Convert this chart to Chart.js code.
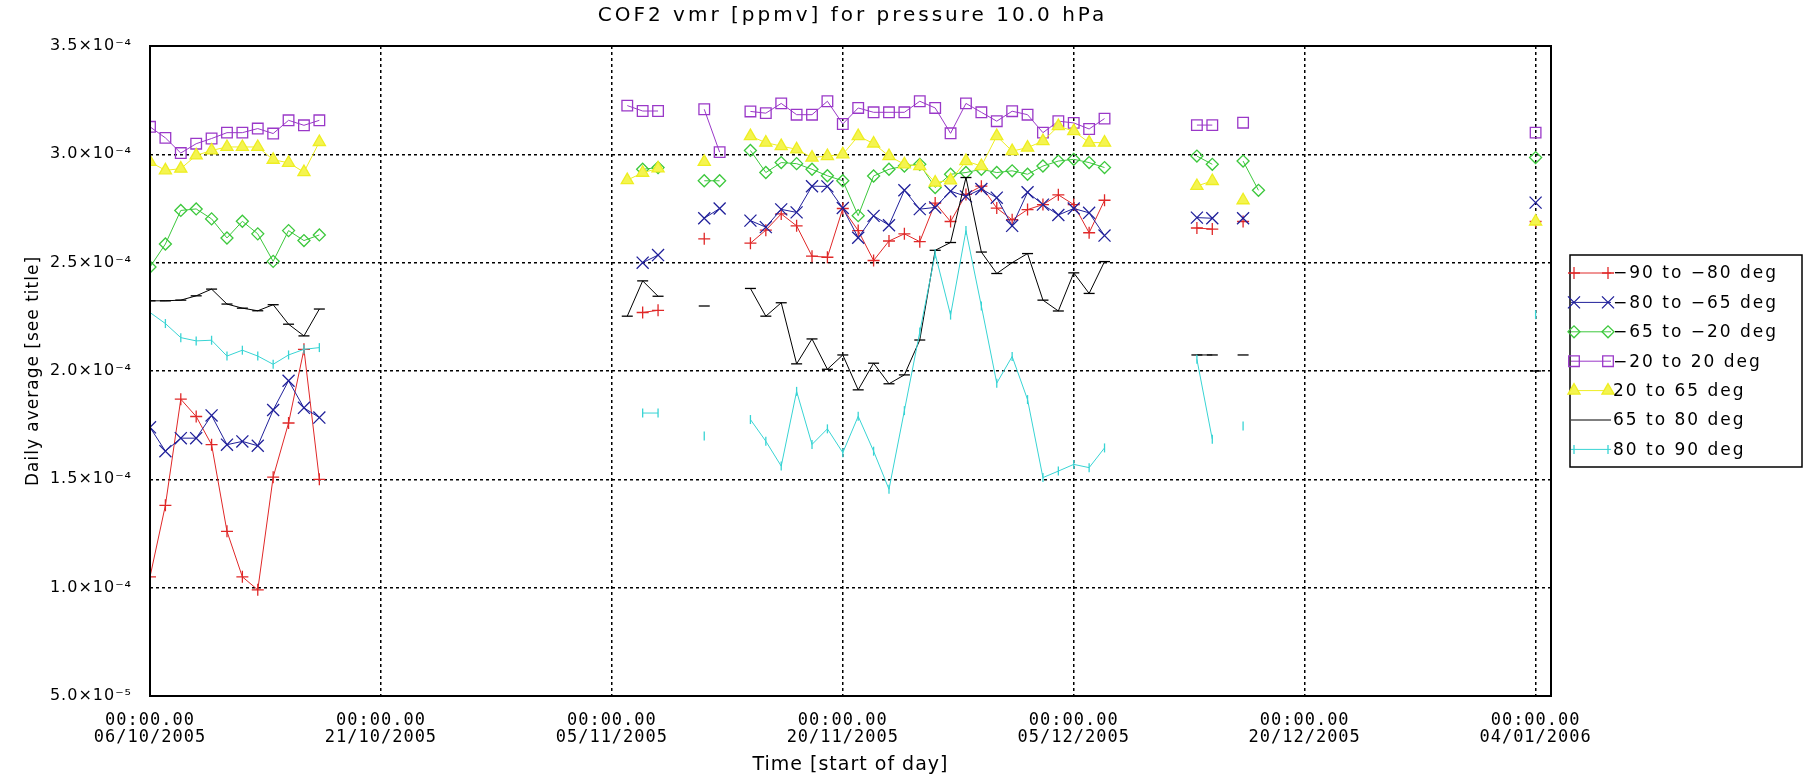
<!DOCTYPE html>
<html>
<head>
<meta charset="utf-8">
<script src="https://cdn.jsdelivr.net/npm/chart.js@4.4.0/dist/chart.umd.min.js"></script>
<style>
html,body{margin:0;padding:0;background:#fff;}
canvas{display:block;}
</style>
</head>
<body>
<canvas id="c" width="1804" height="782"></canvas>
<script>
// ---------------- DATA ----------------
const UNIT = 1e-4; // values below are in units of 1e-4 ppmv
// day offsets from 06/10/2005 00:00
const days = [0,1,2,3,4,5,6,7,8,9,10,11,
  31,32,33,36,37,
  39,40,41,42,43,44,45,46,47,48,49,50,51,52,53,54,55,56,57,58,59,60,61,62,
  68,69,71,72,
  90];

const seriesNames = ['\u221290 to \u221280 deg','\u221280 to \u221265 deg','\u221265 to \u221220 deg','\u221220 to 20 deg','20 to 65 deg','65 to 80 deg','80 to 90 deg'];

const sM90toM80 = [1.05,1.38,1.87,1.79,1.66,1.26,1.05,0.99,1.51,1.76,2.10,1.50,
  null,2.27,2.28,2.61,null,
  2.59,2.65,2.725,2.67,2.53,2.525,2.75,2.648,2.51,2.60,2.633,2.597,2.775,2.69,2.815,2.853,2.752,2.698,2.745,2.768,2.813,2.768,2.638,2.788,
  2.66,2.655,2.69,null,
  2.69];
const sM80toM65 = [1.74,1.63,1.69,1.69,1.795,1.66,1.675,1.655,1.82,1.955,1.83,1.785,
  null,2.50,2.535,2.705,2.75,
  2.694,2.664,2.746,2.732,2.853,2.852,2.752,2.615,2.716,2.673,2.834,2.747,2.755,2.83,2.806,2.84,2.80,2.67,2.825,2.768,2.72,2.75,2.73,2.625,
  2.708,2.705,2.705,null,
  2.777];
const sM65toM20 = [2.48,2.586,2.741,2.748,2.702,2.614,2.691,2.633,2.506,2.648,2.602,2.628,
  null,2.931,2.939,2.878,2.878,
  3.018,2.916,2.962,2.957,2.931,2.901,2.878,2.717,2.90,2.931,2.946,2.954,2.847,2.908,2.916,2.931,2.916,2.924,2.908,2.946,2.969,2.977,2.962,2.939,
  2.992,2.954,2.969,2.834,
  2.985];
const sM20to20 = [3.127,3.076,3.006,3.049,3.073,3.10,3.10,3.119,3.096,3.157,3.134,3.157,
  3.225,3.20,3.20,3.208,3.01,
  3.198,3.19,3.235,3.183,3.183,3.245,3.14,3.214,3.194,3.194,3.194,3.245,3.214,3.097,3.235,3.194,3.153,3.199,3.183,3.10,3.153,3.145,3.117,3.165,
  3.135,3.135,3.146,null,
  3.10];
const s20to65 = [2.965,2.926,2.934,2.995,3.018,3.034,3.034,3.034,2.975,2.961,2.918,3.057,
  2.881,2.915,2.935,2.965,null,
  3.084,3.054,3.038,3.023,2.985,2.992,3.00,3.084,3.05,2.992,2.954,2.946,2.87,2.88,2.969,2.946,3.084,3.015,3.031,3.061,3.13,3.107,3.054,3.054,
  2.854,2.877,2.788,null,
  2.69];
const s65to80 = [2.324,2.324,2.327,2.347,2.378,2.309,2.29,2.278,2.306,2.216,2.162,2.286,
  2.253,2.416,2.345,2.30,null,
  2.381,2.253,2.315,2.033,2.148,2.008,2.074,1.913,2.036,1.941,1.982,2.143,2.557,2.593,2.893,2.549,2.45,2.50,2.542,2.327,2.277,2.453,2.358,2.505,
  2.074,2.074,2.074,null,
  2.00];
const s80to90 = [2.27,2.219,2.154,2.139,2.142,2.069,2.096,2.069,2.031,2.074,2.10,2.108,
  null,1.806,1.806,1.70,null,
  1.776,1.676,1.561,1.906,1.661,1.733,1.623,1.791,1.63,1.454,1.817,2.18,2.541,2.258,2.648,2.30,1.944,2.067,1.868,1.508,1.538,1.569,1.554,1.645,
  2.054,1.685,1.746,null,
  2.26];

const seriesValues = [sM90toM80, sM80toM65, sM65toM20, sM20to20, s20to65, s65to80, s80to90];

const xTickDays = [0,15,30,45,60,75,90];
const xTickLabels = [
  ['00:00.00','06/10/2005'],
  ['00:00.00','21/10/2005'],
  ['00:00.00','05/11/2005'],
  ['00:00.00','20/11/2005'],
  ['00:00.00','05/12/2005'],
  ['00:00.00','20/12/2005'],
  ['00:00.00','04/01/2006']
];
const yTickValues = [5e-5,1.0e-4,1.5e-4,2.0e-4,2.5e-4,3.0e-4,3.5e-4];
const yTickLabels = ['5.0\u00d710\u207b\u2075','1.0\u00d710\u207b\u2074','1.5\u00d710\u207b\u2074','2.0\u00d710\u207b\u2074','2.5\u00d710\u207b\u2074','3.0\u00d710\u207b\u2074','3.5\u00d710\u207b\u2074'];

const TITLE = 'COF2 vmr [ppmv] for pressure 10.0 hPa';
const X_TITLE = 'Time [start of day]';
const Y_TITLE = 'Daily average [see title]';

// ---------------- STYLES ----------------
const styles = [
  {color:'#e02828', pointStyle:'cross',    r:6,   rot:0,  fill:'rgba(0,0,0,0)'},
  {color:'#20209a', pointStyle:'crossRot', r:8.5, rot:0,  fill:'rgba(0,0,0,0)'},
  {color:'#3cc83c', pointStyle:'rectRot',  r:6,   rot:0,  fill:'rgba(0,0,0,0)'},
  {color:'#9a38c8', pointStyle:'rect',     r:7.5, rot:0,  fill:'rgba(0,0,0,0)'},
  {color:'#eeee22', pointStyle:'triangle', r:7,   rot:0,  fill:'#f4f450'},
  {color:'#000000', pointStyle:'line',     r:5.5, rot:0,  fill:'rgba(0,0,0,0)'},
  {color:'#38d4d4', pointStyle:'line',     r:4.5, rot:90, fill:'rgba(0,0,0,0)'}
];

function buildSeries(vals){
  const pts = [];
  for (let i = 0; i < days.length; i++) {
    if (i > 0 && days[i] - days[i-1] > 1) pts.push({x:(days[i]+days[i-1])/2, y:null});
    pts.push({x:days[i], y: vals[i] === null ? null : vals[i]*UNIT});
  }
  return pts;
}

const datasets = seriesValues.map((vals, i) => ({
  label: seriesNames[i],
  data: buildSeries(vals),
  borderColor: styles[i].color,
  backgroundColor: styles[i].color,
  borderWidth: 1,
  tension: 0,
  spanGaps: false,
  pointStyle: styles[i].pointStyle,
  pointRadius: styles[i].r,
  pointRotation: styles[i].rot,
  pointBorderColor: styles[i].color,
  pointBackgroundColor: styles[i].fill,
  pointBorderWidth: 1.3,
  pointHoverRadius: styles[i].r,
  order: seriesValues.length - 1 - i
}));

// ---------------- PLUGINS ----------------
const spacingPlugin = {
  id:'spacing',
  beforeDraw(chart){ chart.ctx.letterSpacing = '1px'; },
  afterDraw(chart){ chart.ctx.letterSpacing = '0px'; }
};

const boxPlugin = {
  id:'box',
  afterDatasetsDraw(chart){
    const {ctx, chartArea:a} = chart;
    ctx.save();
    ctx.strokeStyle = '#000';
    ctx.lineWidth = 2;
    ctx.setLineDash([]);
    ctx.strokeRect(a.left, a.top, a.right - a.left, a.bottom - a.top);
    ctx.restore();
  }
};

const titlePlugin = {
  id:'idlTitle',
  afterDraw(chart){
    const {ctx, chartArea:a} = chart;
    ctx.save();
    ctx.letterSpacing = '3px';
    ctx.font = '20px "DejaVu Sans"';
    ctx.fillStyle = '#000';
    ctx.textAlign = 'center';
    ctx.textBaseline = 'alphabetic';
    ctx.fillText(TITLE, (a.left + a.right)/2 + 2, 21);
    ctx.restore();
  }
};

function drawMarker(ctx, st, x, y){
  ctx.save();
  ctx.strokeStyle = st.color;
  ctx.fillStyle = st.fill;
  ctx.lineWidth = 1.3;
  if (Chart.helpers && Chart.helpers.drawPoint) {
    Chart.helpers.drawPoint(ctx, {pointStyle: st.pointStyle, radius: st.r, rotation: st.rot, borderWidth: 1.3}, x, y);
  }
  ctx.restore();
}

const legendPlugin = {
  id:'idlLegend',
  afterDraw(chart){
    const ctx = chart.ctx;
    const bx = 1570, by = 255, bw = 232, bh = 212;
    ctx.save();
    ctx.letterSpacing = '2px';
    ctx.fillStyle = '#fff';
    ctx.fillRect(bx, by, bw, bh);
    ctx.strokeStyle = '#000';
    ctx.lineWidth = 1.5;
    ctx.setLineDash([]);
    ctx.strokeRect(bx, by, bw, bh);
    ctx.font = '17px "DejaVu Sans"';
    ctx.textAlign = 'left';
    ctx.textBaseline = 'middle';
    for (let i = 0; i < seriesNames.length; i++) {
      const y = by + 18 + i * 29.4;
      const st = styles[i];
      ctx.strokeStyle = st.color;
      ctx.lineWidth = 1;
      ctx.beginPath();
      ctx.moveTo(bx + 1, y);
      ctx.lineTo(bx + 41, y);
      ctx.stroke();
      if (i !== 5) {
        drawMarker(ctx, st, bx + 4, y);
        drawMarker(ctx, st, bx + 38, y);
      }
      ctx.fillStyle = '#000';
      ctx.fillText(seriesNames[i], bx + 43, y + 1);
    }
    ctx.restore();
  }
};

// ---------------- CHART ----------------
new Chart(document.getElementById('c'), {
  type: 'line',
  data: { datasets },
  options: {
    responsive: false,
    animation: false,
    events: [],
    layout: { padding: { left: 0, right: 253, top: 46, bottom: 0 } },
    plugins: {
      legend: { display: false },
      title: { display: false },
      tooltip: { enabled: false }
    },
    scales: {
      x: {
        type: 'linear',
        min: 0,
        max: 91,
        afterBuildTicks(scale){ scale.ticks = xTickDays.map(v => ({value: v})); },
        afterFit(scale){ scale.height = 86; },
        ticks: {
          autoSkip: false,
          maxRotation: 0,
          minRotation: 0,
          padding: 16,
          color: '#000',
          font: { family: '"DejaVu Sans Mono"', size: 17, lineHeight: 1.0 },
          callback: (v, i) => xTickLabels[i]
        },
        grid: { color: '#000', lineWidth: 1.5, drawTicks: false, borderDash: [3,3] },
        border: { display: false, dash: [3,3] },
        title: {
          display: true,
          text: X_TITLE,
          color: '#000',
          font: { family: '"DejaVu Sans"', size: 19 },
          padding: { top: 0, bottom: 6 }
        }
      },
      y: {
        type: 'linear',
        min: 5e-5,
        max: 3.5e-4,
        afterBuildTicks(scale){ scale.ticks = yTickValues.map(v => ({value: v})); },
        afterFit(scale){ scale.width = 150; },
        ticks: {
          padding: 18,
          color: '#000',
          font: { family: '"DejaVu Sans"', size: 16 },
          callback: (v, i) => yTickLabels[i]
        },
        grid: { color: '#000', lineWidth: 1.5, drawTicks: false, borderDash: [3,3] },
        border: { display: false, dash: [3,3] },
        title: {
          display: true,
          text: Y_TITLE,
          color: '#000',
          font: { family: '"DejaVu Sans"', size: 17 },
          padding: { top: 23, bottom: 0 }
        }
      }
    }
  },
  plugins: [spacingPlugin, boxPlugin, titlePlugin, legendPlugin]
});
</script>
</body>
</html>
